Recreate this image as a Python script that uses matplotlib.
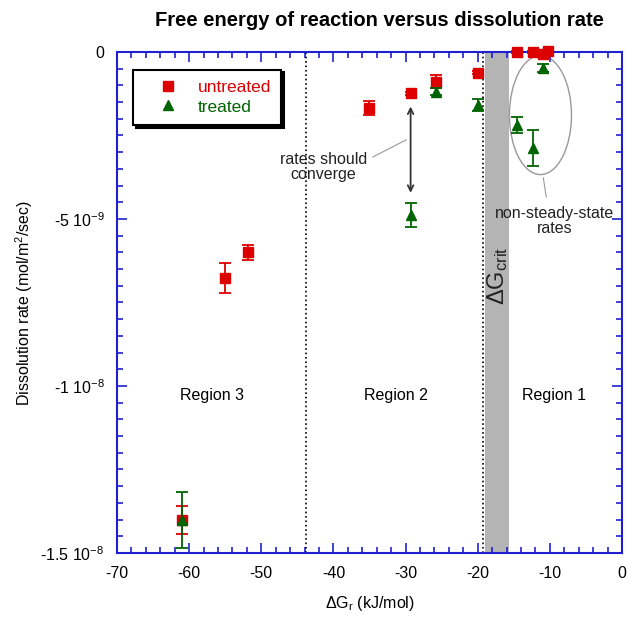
import matplotlib
matplotlib.use("Agg")
import matplotlib.pyplot as plt
from matplotlib.patches import Ellipse
from matplotlib.lines import Line2D

plt.rcParams['font.family'] = ['Liberation Sans', 'DejaVu Sans']
plt.rcParams['mathtext.fontset'] = 'custom'
plt.rcParams['mathtext.rm'] = 'Liberation Sans'
plt.rcParams['mathtext.it'] = 'Liberation Sans'
plt.rcParams['mathtext.default'] = 'regular'
plt.rcParams['axes.unicode_minus'] = False

# data
dg_untreated = [-61, -55, -51.8, -35.1, -29.3, -25.8, -20.0, -14.6, -12.3, -10.9, -10.3]
rate_untreated = [-1.40e-8, -6.78e-9, -6.0e-9, -1.67e-9, -1.24e-9, -0.89e-9, -0.62e-9,
                  -0.01e-9, -0.01e-9, -0.05e-9, 0.02e-9]
err_untreated = [0.42e-9, 0.45e-9, 0.22e-9, 0.21e-9, 0.04e-9, 0.2e-9, 0.05e-9,
                 0.03e-9, 0.03e-9, 0.03e-9, 0.03e-9]

dg_treated = [-61, -29.3, -25.8, -20.0, -14.6, -12.3, -10.9]
rate_treated = [-1.40e-8, -4.88e-9, -1.19e-9, -1.59e-9, -2.19e-9, -2.88e-9, -0.49e-9]
err_treated = [0.84e-9, 0.35e-9, 0.1e-9, 0.19e-9, 0.24e-9, 0.54e-9, 0.12e-9]

xticks = [-70, -60, -50, -40, -30, -20, -10, 0]
yticks = [-1.5e-8, -1e-8, -5e-9, 0]
ytick_labels = [r'-1.5 10$^{-8}$', r'-1 10$^{-8}$', r'-5 10$^{-9}$', '0']

RED = '#dd0000'
GREEN = '#006400'
BLUE = '#2020d0'

fig = plt.figure(figsize=(6.27, 6.21), dpi=100)
ax = fig.add_axes([0.1866, 0.1095, 0.8054, 0.8068])

ax.set_xlim(-70, 0)
ax.set_ylim(-1.5e-8, 0)

# region 1 boundary band and dotted separators
ax.axvspan(-19.0, -15.6, color='#b4b4b4', lw=0, zorder=1)
ax.axvline(-19.2, color='k', ls=':', lw=1.2, zorder=2)
ax.axvline(-43.8, color='k', ls=':', lw=1.2, zorder=2)

e1 = ax.errorbar(dg_untreated, rate_untreated, yerr=err_untreated, fmt='s', color=RED,
                 ms=7.5, capsize=4, elinewidth=1.3, capthick=1.3, zorder=4)
e2 = ax.errorbar(dg_treated, rate_treated, yerr=err_treated, fmt='^', color=GREEN,
                 ms=7.5, capsize=4, elinewidth=1.3, capthick=1.3, zorder=5)
for e in (e1, e2):
    for art in [e[0]] + list(e[1]) + list(e[2]):
        art.set_clip_on(False)

# annotations
ax.annotate('', xy=(-29.3, -4.3e-9), xytext=(-29.3, -1.55e-9),
            arrowprops=dict(arrowstyle='<->', color='#333333', lw=1.3))
ax.text(-41.4, -3.44e-9, 'rates should\nconverge', ha='center', va='center', fontsize=11.5,
        color='#222222', linespacing=1.0)
ax.plot([-34.5, -29.9], [-3.14e-9, -2.63e-9], color='#999999', lw=0.8)

ax.add_patch(Ellipse((-11.3, -1.89e-9), 8.6, 3.56e-9, fill=False, ec='#999999', lw=1.0))
ax.plot([-10.9, -10.5], [-3.77e-9, -4.34e-9], color='#999999', lw=0.8)
ax.text(-9.3, -5.05e-9, 'non-steady-state\nrates', ha='center', va='center', fontsize=11.5,
        color='#222222', linespacing=1.0)

ax.text(-17.3, -6.7e-9, r'$\Delta G_{crit}$', rotation=90, ha='center', va='center',
        fontsize=17, color='#222222')

ax.text(-56.8, -1.027e-8, 'Region 3', ha='center', va='center', fontsize=11.5)
ax.text(-31.4, -1.027e-8, 'Region 2', ha='center', va='center', fontsize=11.5)
ax.text(-9.4, -1.027e-8, 'Region 1', ha='center', va='center', fontsize=11.5)

# axes styling
ax.set_xticks(xticks)
ax.set_xticks(range(-70, 1, 2), minor=True)
ax.set_yticks(yticks)
ax.set_yticklabels(ytick_labels)
ax.set_yticks([i * 5e-10 for i in range(-30, 1)], minor=True)
ax.tick_params(which='both', direction='in', top=True, right=True, color=BLUE,
               labelsize=11.5, width=1.2)
ax.tick_params(which='major', length=7, pad=9)
ax.tick_params(which='minor', length=4)
for sp in ax.spines.values():
    sp.set_color(BLUE)
    sp.set_linewidth(1.5)

ax.set_xlabel(r'$\Delta G_r$ (kJ/mol)', fontsize=11.5, labelpad=10)
ax.set_ylabel(r'Dissolution rate (mol/m$^2$/sec)', fontsize=11.5, labelpad=4)
ax.set_title('Free energy of reaction versus dissolution rate', fontsize=14.5,
             fontweight='heavy', pad=19, x=0.52)

handles = [Line2D([], [], ls='', marker='s', color=RED, ms=7.5),
           Line2D([], [], ls='', marker='^', color=GREEN, ms=7.5)]
leg = ax.legend(handles, ['untreated', 'treated'], loc='upper left',
                bbox_to_anchor=(0.032, 0.965),
                frameon=True, fancybox=False, shadow={'color': 'k', 'alpha': 1},
                edgecolor='k', fontsize=12.5, labelspacing=0.25, handletextpad=0.3,
                borderpad=0.6, handlelength=2.8, borderaxespad=0.0,
                labelcolor=[RED, GREEN])
leg.get_frame().set_linewidth(1.5)

fig.savefig('out.png', dpi=100)
